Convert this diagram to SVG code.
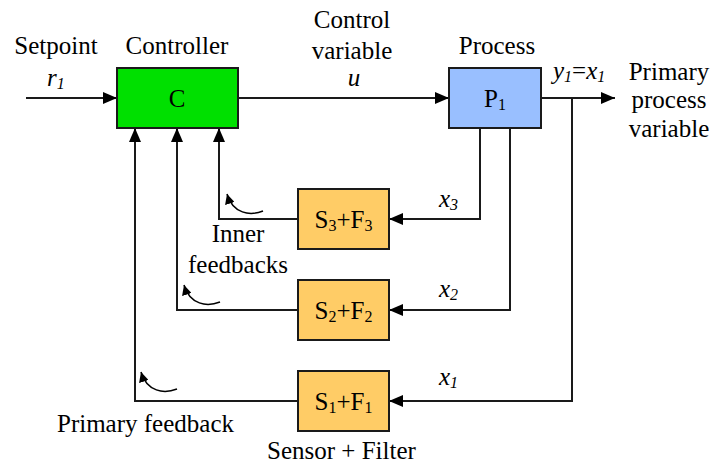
<svg xmlns="http://www.w3.org/2000/svg" width="712" height="465" viewBox="0 0 712 465">
<style>
.t text{font-size:25px;fill:#000}
.m{text-anchor:middle}
.i{font-style:italic}
.sub{font-size:16px}
.box{stroke:#1a1a1a;stroke-width:2}
.ln{fill:none;stroke:#1a1a1a;stroke-width:2}
.cv{fill:none;stroke:#000;stroke-width:1.5}
</style>
<defs>
<marker id="ah" viewBox="0 0 14 12" refX="14" refY="6" markerWidth="14" markerHeight="12" markerUnits="userSpaceOnUse" orient="auto"><path d="M0,0 L14,6 L0,12 z" fill="#000"/></marker>
<marker id="sh" viewBox="0 0 10 10" refX="10" refY="5" markerWidth="10" markerHeight="10" markerUnits="userSpaceOnUse" orient="auto"><path d="M0,0 L10,5 L0,10 z" fill="#000"/></marker>
</defs>

<g id="connectors">
<path class="ln" d="M26,98 H117" marker-end="url(#ah)"/>
<path class="ln" d="M238,98 H449" marker-end="url(#ah)"/>
<path class="ln" d="M541,98 H615" marker-end="url(#ah)"/>
<path class="ln" d="M572,98 V401 H389" marker-end="url(#ah)"/>
<path class="ln" d="M510,128 V310 H389" marker-end="url(#ah)"/>
<path class="ln" d="M480,128 V219 H389" marker-end="url(#ah)"/>
<path class="ln" d="M298,219 H219 V128" marker-end="url(#ah)"/>
<path class="ln" d="M298,310 H177 V128" marker-end="url(#ah)"/>
<path class="ln" d="M298,401 H135 V128" marker-end="url(#ah)"/>
<path class="cv" d="M263,211 C250,216 233,214 227,194" marker-end="url(#sh)"/>
<path class="cv" d="M220,302 C207,307 190,305 184,285" marker-end="url(#sh)"/>
<path class="cv" d="M177,389 C164,394 147,392 141,372" marker-end="url(#sh)"/>
</g>

<g class="t" font-family="'Liberation Serif', 'Times New Roman', Times, serif">
<g id="controller">
<rect class="box" x="117" y="68" width="121" height="60" fill="#00e000"/>
<text class="m" x="177" y="107">C</text>
</g>

<g id="process">
<rect class="box" x="449" y="68" width="92" height="60" fill="#99bfff"/>
<text class="m" x="495" y="107">P<tspan class="sub" dy="3">1</tspan></text>
</g>

<g id="sf3">
<rect class="box" x="298" y="189" width="91" height="60" fill="#ffcc66"/>
<text class="m" x="343.5" y="228">S<tspan class="sub" dy="3">3</tspan><tspan dy="-3">+F</tspan><tspan class="sub" dy="3">3</tspan></text>
</g>

<g id="sf2">
<rect class="box" x="298" y="280" width="91" height="60" fill="#ffcc66"/>
<text class="m" x="343.5" y="319">S<tspan class="sub" dy="3">2</tspan><tspan dy="-3">+F</tspan><tspan class="sub" dy="3">2</tspan></text>
</g>

<g id="sf1">
<rect class="box" x="298" y="371" width="91" height="60" fill="#ffcc66"/>
<text class="m" x="343.5" y="410">S<tspan class="sub" dy="3">1</tspan><tspan dy="-3">+F</tspan><tspan class="sub" dy="3">1</tspan></text>
</g>

<g id="labels">
<text class="m" x="56" y="54">Setpoint</text>
<text class="i" x="47" y="86">r<tspan class="sub" dy="3">1</tspan></text>
<text class="m" x="177" y="54">Controller</text>
<text class="m" x="352" y="28">Control</text>
<text class="m" x="352" y="59">variable</text>
<text class="m i" x="354" y="86">u</text>
<text class="m" x="497" y="54">Process</text>
<text class="i" x="553" y="79">y<tspan class="sub" dy="3">1</tspan><tspan dy="-3" font-style="normal">=</tspan>x<tspan class="sub" dy="3">1</tspan></text>
<text class="m" x="669" y="80">Primary</text>
<text class="m" x="669" y="108">process</text>
<text class="m" x="669" y="137">variable</text>
<text class="i" x="439" y="207">x<tspan class="sub" dy="3">3</tspan></text>
<text class="i" x="439" y="297">x<tspan class="sub" dy="3">2</tspan></text>
<text class="i" x="439" y="385">x<tspan class="sub" dy="3">1</tspan></text>
<text class="m" x="238" y="242">Inner</text>
<text class="m" x="238" y="273">feedbacks</text>
<text x="57" y="432">Primary feedback</text>
<text x="267" y="459">Sensor + Filter</text>
</g>
</g>
</svg>
